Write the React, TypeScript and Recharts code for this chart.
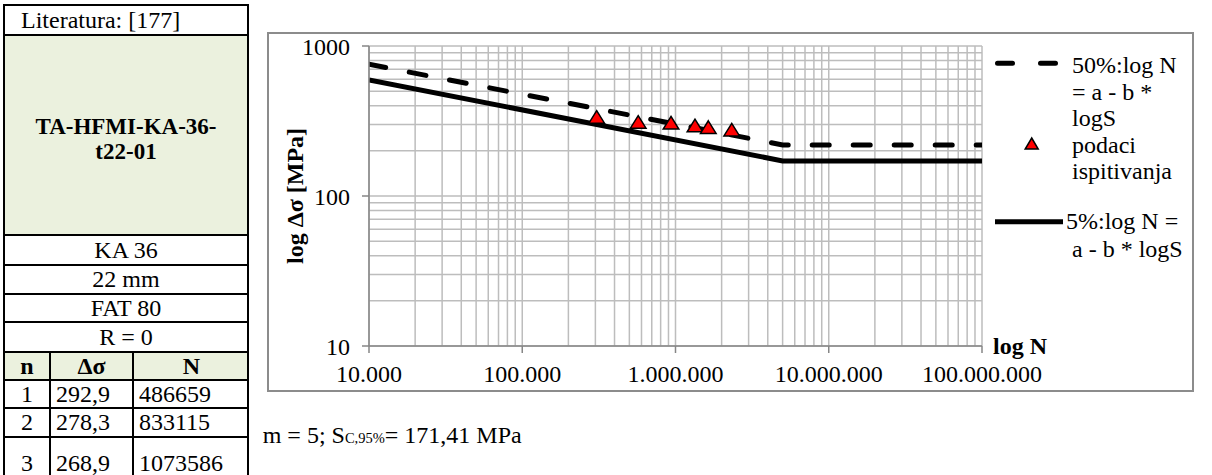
import React from 'react';
import { ComposedChart, Line, Scatter, XAxis, YAxis, CartesianGrid } from 'recharts';

const FONT = '"Liberation Serif", "Times New Roman", serif';

// ---- data ----
const xMajorTicks = [10000, 100000, 1000000, 10000000, 100000000];
const xTickLabels = ['10.000', '100.000', '1.000.000', '10.000.000', '100.000.000'];
const yMajorTicks = [10, 100, 1000];
const yTickLabels = ['10', '100', '1000'];

const line50N = [10000, 5000000, 100000000];
const line50S = [755, 219, 219];
const line5N = [10000, 5000000, 100000000];
const line5S = [594, 171.41, 171.41];
const testN = [306000, 571000, 935000, 1340000, 1637000, 2328000];
const testS = [337, 312, 308, 295, 288, 277];

const tableIdx = ['1', '2', '3'];
const tableDs = ['292,9', '278,3', '268,9'];
const tableNv = ['486659', '833115', '1073586'];

const minorSteps = [1, 2, 3, 4, 5, 6, 7, 8, 9];
const xGridTicks: number[] = [];
[10000, 100000, 1000000, 10000000].forEach((d) => minorSteps.forEach((m) => xGridTicks.push(d * m)));
xGridTicks.push(100000000);
const yGridTicks: number[] = [];
[10, 100].forEach((d) => minorSteps.forEach((m) => yGridTicks.push(d * m)));
yGridTicks.push(1000);

const data50 = line50N.map((x, i) => ({ x, s: line50S[i] }));
const data5 = line5N.map((x, i) => ({ x, s: line5S[i] }));
const dataTests = testN.map((x, i) => ({ x, s: testS[i] }));

const Tri = (props: any) => {
  const { cx, cy } = props;
  if (cx == null || cy == null) return null;
  return (
    <polygon
      points={`${cx},${cy - 6.3} ${cx + 7.8},${cy + 6.3} ${cx - 7.8},${cy + 6.3}`}
      fill="#FF0000"
      stroke="#000"
      strokeWidth={1.5}
    />
  );
};

const cellBase: React.CSSProperties = {
  position: 'absolute',
  left: 0,
  width: '100%',
  boxSizing: 'border-box',
  borderBottom: '2px solid #000',
  display: 'flex',
  alignItems: 'center',
  justifyContent: 'center',
  fontSize: 24,
  fontFamily: FONT,
  color: '#000',
};

const GREEN = '#EBF1DE';

function Table() {
  const rowTops = [0, 30, 230, 260, 289, 317, 347, 375, 403, 432];
  const rowBottoms = [30, 230, 260, 289, 317, 347, 375, 403, 432, 484];
  const simple = ['KA 36', '22 mm', 'FAT 80', 'R = 0'];
  const colL = [0, 46, 129];
  const colW = [46, 83, 115];
  const renderCols = (vals: string[], bold: boolean, top: number, h: number, bg: string, aligns: string[]) => (
    <div style={{ ...cellBase, top, height: h, background: bg, display: 'block' }}>
      {vals.map((v, i) => (
        <div
          key={i}
          style={{
            position: 'absolute',
            left: colL[i],
            width: colW[i],
            top: 0,
            bottom: 0,
            boxSizing: 'border-box',
            borderRight: i < 2 ? '2px solid #000' : 'none',
            display: 'flex',
            alignItems: 'center',
            justifyContent: aligns[i],
            paddingLeft: aligns[i] === 'flex-start' ? 5 : 0,
            fontWeight: bold ? 'bold' : 'normal',
          }}
        >
          {v}
        </div>
      ))}
    </div>
  );
  return (
    <div
      style={{
        position: 'absolute',
        left: 3,
        top: 4,
        width: 246,
        height: 480,
        boxSizing: 'border-box',
        borderLeft: '2px solid #000',
        borderRight: '2px solid #000',
        borderTop: '2px solid #000',
      }}
    >
      <div style={{ ...cellBase, top: rowTops[0], height: rowBottoms[0] - rowTops[0], justifyContent: 'flex-start', paddingLeft: 16 }}>
        Literatura: [177]
      </div>
      <div
        style={{
          ...cellBase,
          top: rowTops[1],
          height: rowBottoms[1] - rowTops[1],
          background: GREEN,
          fontWeight: 'bold',
          fontSize: 23,
          flexDirection: 'column',
          lineHeight: '25px',
          paddingTop: 8,
          textAlign: 'center',
        }}
      >
        <div>TA-HFMI-KA-36-</div>
        <div>t22-01</div>
      </div>
      {simple.map((t, i) => (
        <div key={t} style={{ ...cellBase, top: rowTops[2 + i], height: rowBottoms[2 + i] - rowTops[2 + i] }}>
          {t}
        </div>
      ))}
      {renderCols(['n', 'Δσ', 'N'], true, rowTops[6], rowBottoms[6] - rowTops[6], GREEN, ['center', 'center', 'center'])}
      {tableIdx.map((n, i) =>
        <React.Fragment key={n}>
          {renderCols([n, tableDs[i], tableNv[i]], false, rowTops[7 + i], rowBottoms[7 + i] - rowTops[7 + i], '#fff', ['center', 'flex-start', 'flex-start'])}
        </React.Fragment>
      )}
    </div>
  );
}

function Legend() {
  const tx = 1072;
  return (
    <svg
      width={1212}
      height={475}
      style={{ position: 'absolute', left: 0, top: 0, pointerEvents: 'none' }}
    >
      <line x1={997.5} y1={63.3} x2={1056} y2={63.3} stroke="#000" strokeWidth={5} strokeDasharray="15 28" strokeLinecap="round" />
      <polygon points={`1031.7,138 1038.2,149 1025.2,149`} fill="#FF0000" stroke="#000" strokeWidth={1.5} />
      <line x1={995} y1={221.7} x2={1063} y2={221.7} stroke="#000" strokeWidth={5} />
      <g fontFamily={FONT} fontSize={24} fill="#000">
        <text x={tx} y={73.3}>50%:log N</text>
        <text x={tx} y={99.5}>= a - b *</text>
        <text x={tx} y={125.5}>logS</text>
        <text x={tx} y={152.5}>podaci</text>
        <text x={tx} y={178.5}>ispitivanja</text>
        <text x={1066} y={228.5}>5%:log N =</text>
        <text x={tx} y={256.5}>a - b * logS</text>
      </g>
      <text x={262.7} y={443.3} fontFamily={FONT} fontSize={24} fill="#000">
        m = 5; S<tspan fontSize={14.5}>C,95%</tspan>= 171,41 MPa
      </text>
    </svg>
  );
}

export default function App() {
  const xFmt = (v: number) => {
    const i = xMajorTicks.indexOf(v);
    return i >= 0 ? xTickLabels[i] : '';
  };
  const yFmt = (v: number) => {
    const i = yMajorTicks.indexOf(v);
    return i >= 0 ? yTickLabels[i] : '';
  };
  const tickStyle = { fill: '#000', fontSize: 24, fontFamily: FONT };
  return (
    <div style={{ position: 'absolute', left: 0, top: 0, width: 1212, height: 475, background: '#fff', overflow: 'hidden', fontFamily: FONT }}>
      <Table />
      <div
        style={{
          position: 'absolute',
          left: 267,
          top: 32,
          width: 927,
          height: 360,
          border: '2px solid #8c8c8c',
          boxSizing: 'border-box',
        }}
      >
        <ComposedChart width={923} height={356} margin={{ top: 12, right: 210, bottom: 14, left: 40 }}>
          <XAxis xAxisId="g" dataKey="x" type="number" scale="log" domain={[10000, 100000000]} ticks={xGridTicks} interval={0} hide allowDataOverflow />
          <YAxis yAxisId="g" dataKey="s" type="number" scale="log" domain={[10, 1000]} ticks={yGridTicks} interval={0} hide allowDataOverflow />
          <CartesianGrid xAxisId="g" yAxisId="g" stroke="#bdbdbd" strokeWidth={1.5} />
          <XAxis
            dataKey="x"
            type="number"
            scale="log"
            domain={[10000, 100000000]}
            ticks={xMajorTicks}
            interval={0}
            tickFormatter={xFmt}
            height={30}
            tickSize={7}
            tickMargin={12}
            stroke="#868686"
            strokeWidth={1.5}
            tick={tickStyle}
            allowDataOverflow
            label={{ value: 'log N', position: 'right', dx: 6, dy: -16, fontSize: 24, fontWeight: 'bold', fontFamily: FONT, fill: '#000' }}
          />
          <YAxis
            dataKey="s"
            type="number"
            scale="log"
            domain={[10, 1000]}
            ticks={yMajorTicks}
            interval={0}
            tickFormatter={yFmt}
            width={60}
            tickSize={7}
            tickMargin={12}
            stroke="#868686"
            strokeWidth={1.5}
            tick={tickStyle}
            allowDataOverflow
            label={{ value: 'log Δσ [MPa]', angle: -90, position: 'center', dx: -45, fontSize: 24, fontWeight: 'bold', fontFamily: FONT, fill: '#000' }}
          />
          <Line data={data50} dataKey="s" type="linear" stroke="#000" strokeWidth={5} strokeDasharray="17 24" strokeLinecap="round" dot={false} activeDot={false} isAnimationActive={false} />
          <Line data={data5} dataKey="s" type="linear" stroke="#000" strokeWidth={5} dot={false} activeDot={false} isAnimationActive={false} />
          <Scatter data={dataTests} dataKey="s" shape={<Tri />} isAnimationActive={false} />
        </ComposedChart>
      </div>
      <Legend />
    </div>
  );
}
